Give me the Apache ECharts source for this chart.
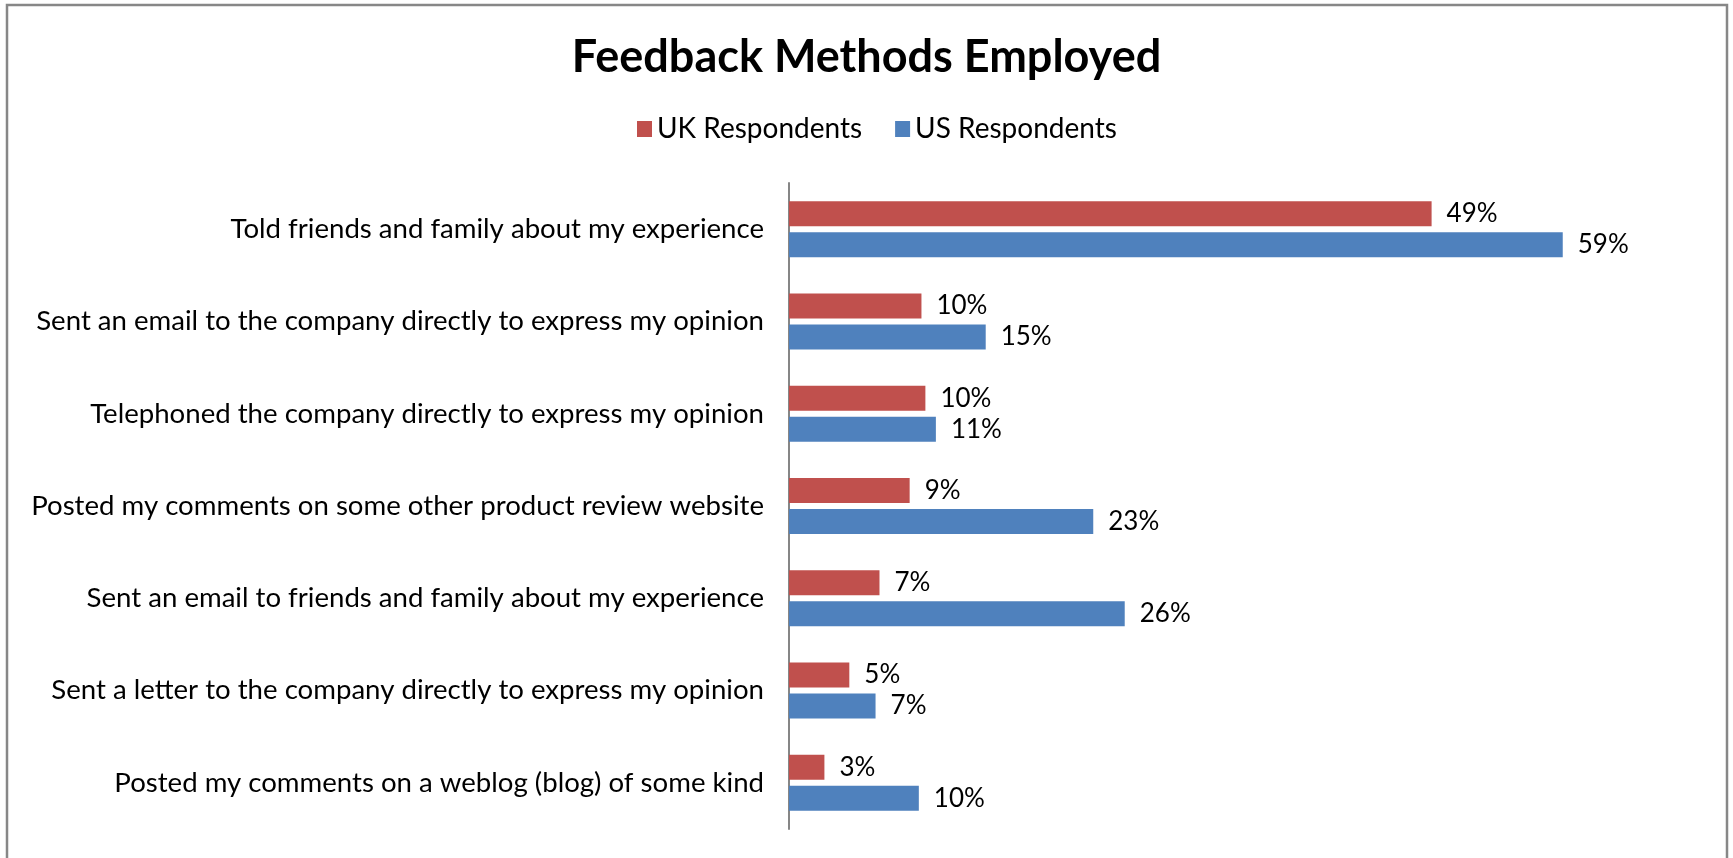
<!DOCTYPE html>
<html>
<head>
<meta charset="utf-8">
<script src="https://cdn.jsdelivr.net/npm/echarts@6/dist/echarts.min.js"></script>
<style>
html, body { margin: 0; padding: 0; background: #fff; }
#chart { width: 1733px; height: 858px; }
</style>
</head>
<body>
<div id="chart"></div>
<script>
// categories, top to bottom
var categories = [
    'Told friends and family about my experience',
    'Sent an email to the company directly to express my opinion',
    'Telephoned the company directly to express my opinion',
    'Posted my comments on some other product review website',
    'Sent an email to friends and family about my experience',
    'Sent a letter to the company directly to express my opinion',
    'Posted my comments on a weblog (blog) of some kind'
];
// percent (labels show them rounded)
var ukValues = [49, 10.1, 10.4, 9.2, 6.9, 4.6, 2.7];
var usValues = [59, 15, 11.2, 23.2, 25.6, 6.6, 9.9];

var font = 'Lato';

var chart = echarts.init(document.getElementById('chart'));

var labelOpt = {
    show: true,
    position: 'right',
    distance: 15,
    color: '#000',
    fontFamily: font,
    fontSize: 26,
    formatter: function (p) { return Math.round(p.value) + '%'; }
};

var option = {
    animation: false,
    backgroundColor: '#fff',
    title: {
        text: 'Feedback Methods Employed',
        left: 'center',
        top: 30,
        textStyle: { fontFamily: font, fontWeight: 'bold', fontSize: 45, color: '#000' }
    },
    legend: {
        top: 110,
        left: 632,
        itemWidth: 15,
        itemHeight: 16,
        itemGap: 33,
        icon: 'rect',
        textStyle: { fontFamily: font, fontSize: 28, color: '#000' },
        data: ['UK Respondents', 'US Respondents']
    },
    grid: { left: 789, top: 183, bottom: 29, right: 26, containLabel: false },
    xAxis: {
        type: 'value',
        min: 0,
        max: 70,
        show: false
    },
    yAxis: {
        type: 'category',
        inverse: true,
        data: categories,
        axisLine: { show: true, lineStyle: { color: '#868686', width: 2 } },
        axisTick: { show: false },
        axisLabel: { margin: 25, color: '#000', fontFamily: font, fontSize: 27.6 }
    },
    series: [
        {
            name: 'UK Respondents',
            type: 'bar',
            data: ukValues,
            barWidth: 25,
            barGap: '24%',
            itemStyle: { color: '#C0504D' },
            label: labelOpt
        },
        {
            name: 'US Respondents',
            type: 'bar',
            data: usValues,
            barWidth: 25,
            barGap: '24%',
            itemStyle: { color: '#4F81BD' },
            label: labelOpt
        }
    ],
    graphic: [{
        type: 'rect',
        shape: { x: 7, y: 5, width: 1720, height: 900 },
        style: { fill: 'none', stroke: '#878787', lineWidth: 2.5 },
        silent: true
    }]
};

chart.setOption(option);
</script>
</body>
</html>
